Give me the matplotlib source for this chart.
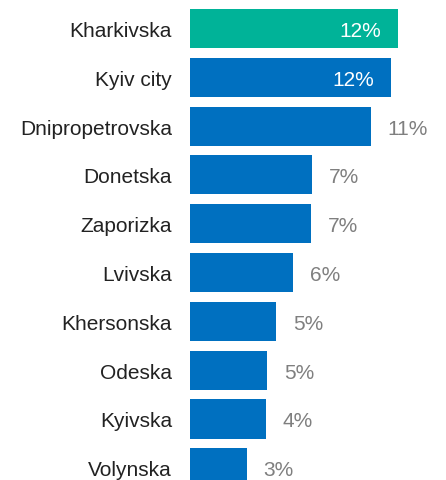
import matplotlib.pyplot as plt

# share of respondents by oblast
regions = ["Kharkivska", "Kyiv city", "Dnipropetrovska", "Donetska", "Zaporizka",
           "Lvivska", "Khersonska", "Odeska", "Kyivska", "Volynska"]
shares = [12.24, 11.82, 10.65, 7.18, 7.12, 6.06, 5.06, 4.53, 4.47, 3.35]
value_labels = ["12%", "12%", "11%", "7%", "7%", "6%", "5%", "5%", "4%", "3%"]
inside = [True, True, False, False, False, False, False, False, False, False]

teal = "#00b398"
blue = "#0070c0"
grey = "#7f7f7f"

plt.rcParams["font.family"] = ["Liberation Sans", "DejaVu Sans"]

fig = plt.figure(figsize=(4.46, 4.81), dpi=100)
ax = fig.add_axes([190 / 446, 0, 256 / 446, 1])

colors = [teal] + [blue] * (len(regions) - 1)
ypos = list(range(len(regions)))
ax.barh(ypos, shares, height=0.8, color=colors)

for y, v, lab, ins in zip(ypos, shares, value_labels, inside):
    if ins:
        ax.annotate(lab, (v, y), xytext=(-12, 0), textcoords="offset points",
                    ha="right", va="center_baseline", color="white", fontsize=15)
    else:
        ax.annotate(lab, (v, y), xytext=(12, 0), textcoords="offset points",
                    ha="left", va="center_baseline", color=grey, fontsize=15)

ax.set_yticks(ypos)
ax.set_yticklabels(regions, fontsize=15, color="#222222", va="center_baseline")
ax.tick_params(axis="y", length=0, pad=13)
ax.set_xticks([])
ax.set_xlim(0, 256 / 17)
ax.set_ylim(9.25, -0.605)
for s in ax.spines.values():
    s.set_visible(False)

fig.savefig("out.png", dpi=100)
